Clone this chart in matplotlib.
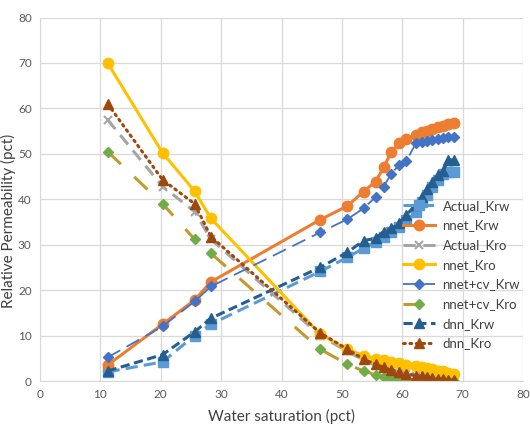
import numpy as np
import matplotlib.pyplot as plt

# Water saturation points (pct)
sw = [11.2, 20.3, 25.6, 28.3, 46.4, 50.9, 53.6, 55.6, 56.9, 58.2,
      59.5, 60.7, 62.3, 63.2, 64.1, 65.0, 65.9, 66.8, 67.6, 68.5]

actual_krw = [2.0, 4.2, 10.0, 12.5, 24.1, 27.2, 29.2, 30.5, 31.7, 32.8,
              34.0, 35.5, 37.3, 39.3, 41.0, 42.8, 44.3, 45.5, 46.0, 46.1]
nnet_krw = [3.5, 12.5, 17.8, 21.8, 35.5, 38.5, 41.7, 43.9, 47.0, 50.4,
            52.3, 53.3, 54.2, 54.7, 55.1, 55.4, 55.8, 56.1, 56.5, 56.8]
actual_kro = [57.5, 42.8, 37.3, 31.2, 10.0, 6.5, 4.6, 3.4, 2.8, 2.2,
              1.8, 1.5, 1.1, 0.9, 0.7, 0.5, 0.4, 0.3, 0.2, 0.1]
nnet_kro = [70.0, 50.2, 41.8, 35.8, 10.3, 7.0, 5.6, 4.9, 4.6, 4.2,
            3.9, 3.6, 3.2, 3.0, 2.8, 2.6, 2.3, 2.1, 1.8, 1.6]
nnetcv_krw = [5.2, 12.0, 17.5, 20.8, 32.7, 35.6, 38.0, 40.5, 42.8, 45.6,
              47.6, 48.5, 52.4, 52.6, 52.8, 53.0, 53.2, 53.4, 53.6, 53.8]
nnetcv_kro = [50.5, 39.0, 31.2, 28.1, 7.0, 3.7, 2.2, 1.4, 0.9, 0.5,
              0.3, 0.2, 0.1, 0.1, 0.1, 0.1, 0.1, 0.1, 0.1, 0.1]
dnn_krw = [2.2, 5.8, 10.8, 13.8, 25.0, 28.3, 30.9, 31.4, 32.9, 33.6,
           34.7, 36.6, 38.8, 40.5, 42.3, 43.9, 45.3, 46.3, 48.6, 48.7]
dnn_kro = [61.0, 44.3, 39.0, 31.8, 10.6, 7.0, 4.8, 3.7, 3.0, 2.4,
           2.0, 1.6, 1.2, 1.0, 0.8, 0.6, 0.5, 0.4, 0.3, 0.2]

plt.rcParams['font.family'] = ['Lato', 'DejaVu Sans']

fig = plt.figure(figsize=(5.3, 4.42), dpi=100)
ax = fig.add_axes([40/530, 61/442, 483/530, 363.5/442])

lw = 2.2
ax.plot(sw, actual_krw, color='#5B9BD5', lw=lw, dashes=(4, 2), marker='s', ms=6.5, label='Actual_Krw')
ax.plot(sw, nnet_krw, color='#ED7D31', lw=lw, marker='o', ms=7.5, label='nnet_Krw')
ax.plot(sw, actual_kro, color='#A5A5A5', lw=lw, dashes=(4, 2.5), marker='x', ms=6, mew=1.5, label='Actual_Kro')
ax.plot(sw, nnet_kro, color='#FFC000', lw=lw, marker='o', ms=7.5, label='nnet_Kro')
ax.plot(sw, nnetcv_krw, color='#4472C4', lw=1.3, dashes=(8, 4), marker='D', ms=5.5, label='nnet+cv_Krw')
ax.plot(sw, nnetcv_kro, color='#C49A2C', lw=lw, dashes=(6, 6), marker='D', ms=5.5,
        mfc='#70AD47', mec='#70AD47', label='nnet+cv_Kro')
ax.plot(sw, dnn_krw, color='#255E91', lw=lw, dashes=(3, 1.5), marker='^', ms=6.5, label='dnn_Krw')
ax.plot(sw, dnn_kro, color='#9E480E', lw=lw, dashes=(0.6, 1.5), dash_capstyle='round',
        marker='^', ms=6.5, label='dnn_Kro')

ax.set_xlim(0, 80)
ax.set_ylim(0, 80)
ax.set_xticks(np.arange(0, 81, 10))
ax.set_yticks(np.arange(0, 81, 10))
ax.grid(True, color='#D9D9D9', lw=0.9)
ax.set_axisbelow(True)
for s in ['top', 'right']:
    ax.spines[s].set_visible(False)
for s in ['bottom', 'left']:
    ax.spines[s].set_color('#D9D9D9')
ax.tick_params(length=0, labelsize=8.5, labelcolor='#595959', pad=6)

ax.set_xlabel('Water saturation (pct)', fontsize=11, color='#404040', labelpad=6)
fig.text(8/530, 0.5, 'Relative Permeability (pct)', rotation=90, ha='center', va='center',
         fontsize=11, color='#404040')

leg = ax.legend(loc='upper left', bbox_to_anchor=(351/483, (381-188)/363.5), frameon=False,
                fontsize=9.5, handlelength=2.4, handletextpad=0.6, labelspacing=0.58,
                numpoints=1, labelcolor='#404040')

fig.savefig('out.png', dpi=100)
